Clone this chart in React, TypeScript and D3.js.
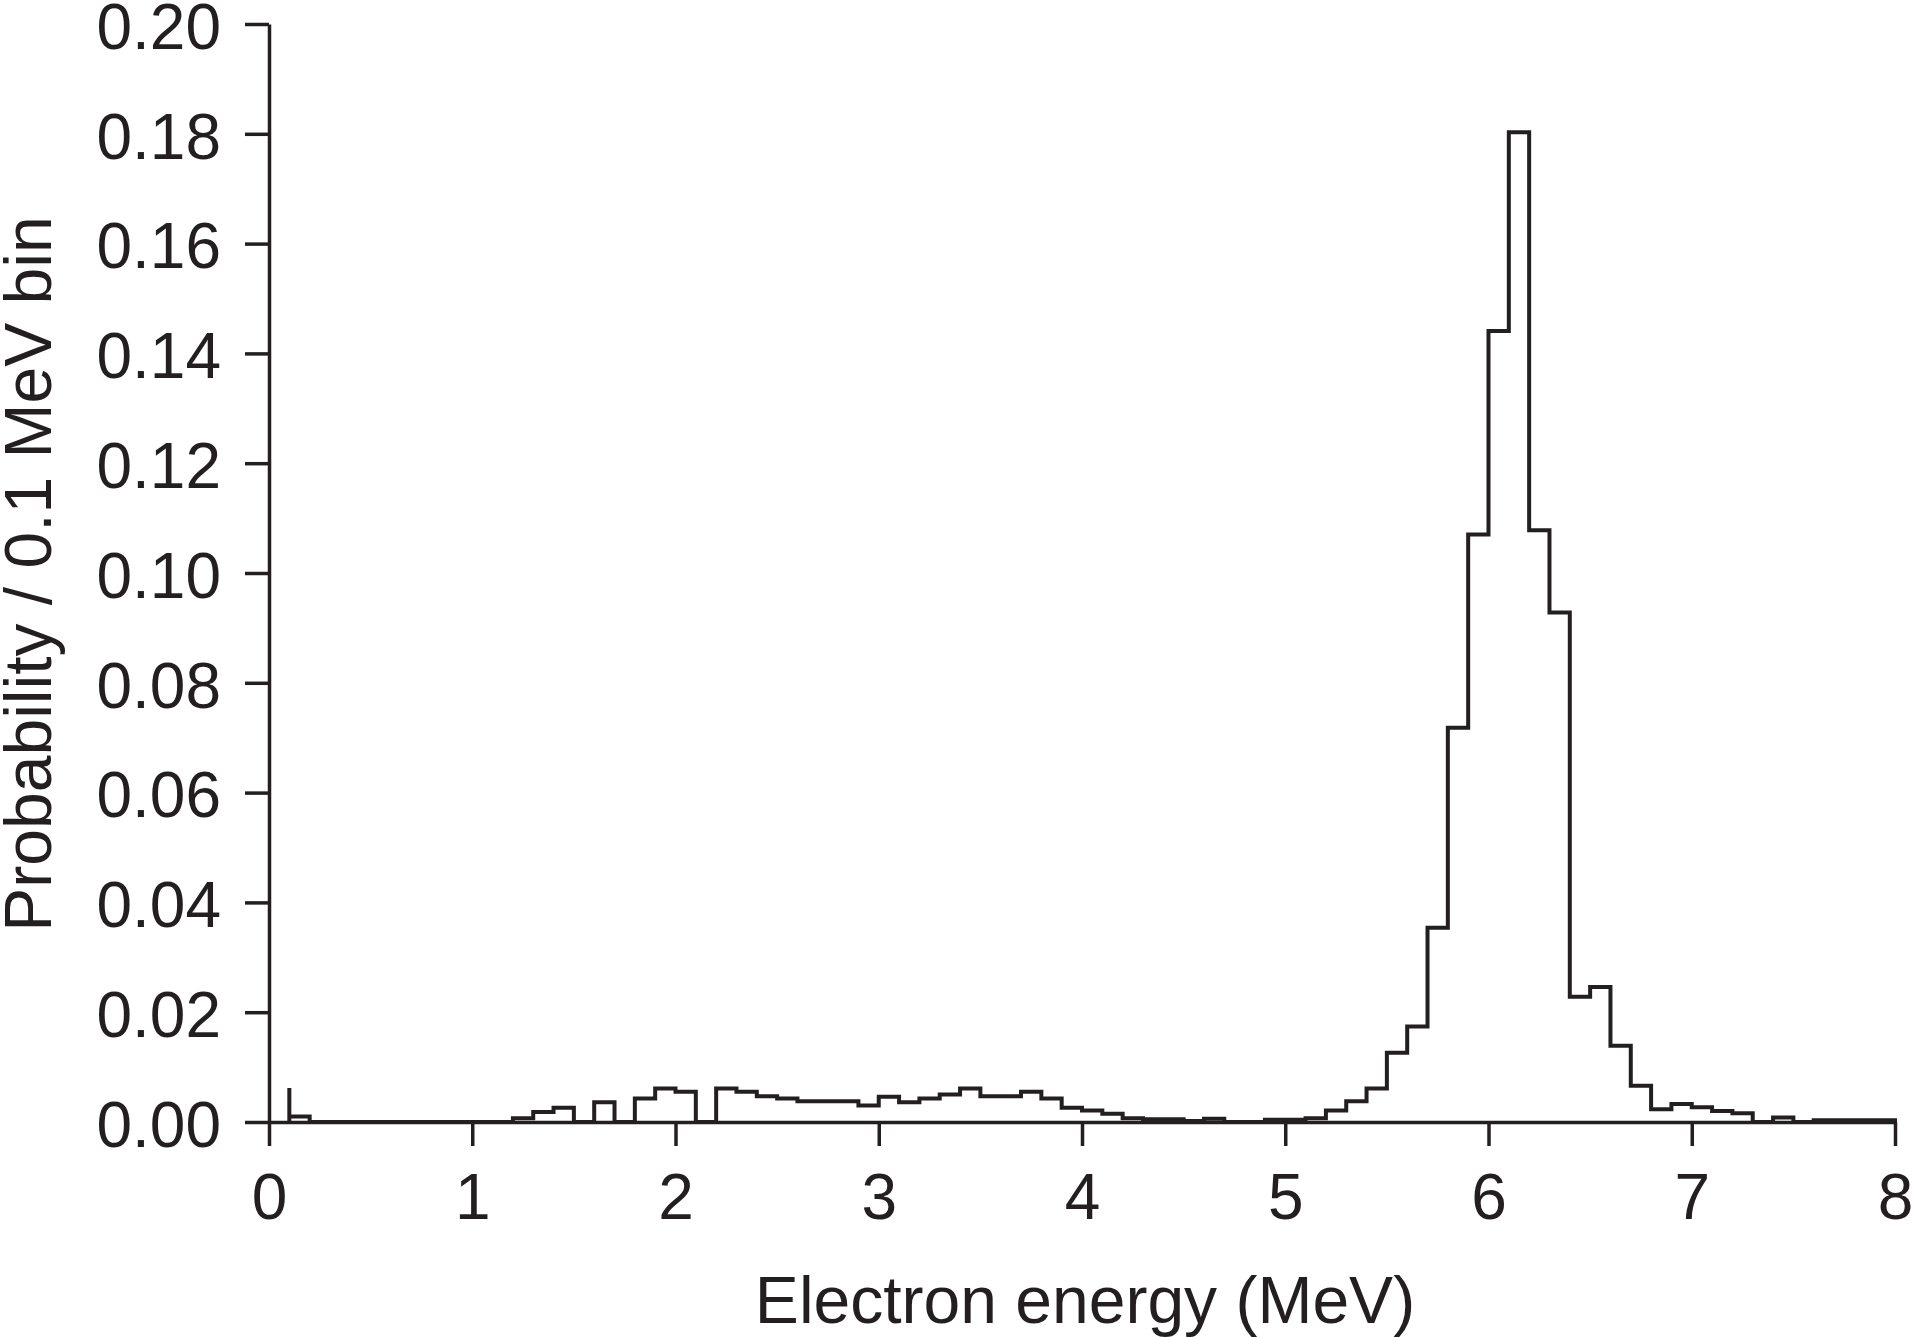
import React, { useRef, useEffect } from 'react';
import * as d3 from 'd3';

// histogram, 0.1 MeV bins from 0 to 8 MeV
const binWidth = 0.1;
const probabilities = [
  0, 0.001, 0, 0, 0, 0, 0, 0, 0, 0,
  0, 0, 0.0007, 0.0018, 0.0026, 0, 0.0036, 0, 0.0043, 0.0061,
  0.0055, 0, 0.0061, 0.0055, 0.0047, 0.0043, 0.0038, 0.0038, 0.0038, 0.003,
  0.0046, 0.0036, 0.0043, 0.005, 0.0061, 0.0047, 0.0047, 0.0055, 0.0043, 0.0026,
  0.0021, 0.0015, 0.0007, 0.0005, 0.0005, 0.0002, 0.0006, 0, 0, 0.0004,
  0.0004, 0.0007, 0.0021, 0.0038, 0.0061, 0.0126, 0.0174, 0.0354, 0.0718, 0.107,
  0.1441, 0.1803, 0.1078, 0.0928, 0.0228, 0.0246, 0.0139, 0.0066, 0.0023, 0.0033,
  0.0027, 0.002, 0.0016, 0, 0.0008, 0, 0.0003, 0.0003, 0.0003, 0.0003,
];
// lone vertical spike drawn at the start of the 0.1 MeV bin
const spikeEnergy = 0.1;
const spikeValue = 0.0062;

const xTicks = [0, 1, 2, 3, 4, 5, 6, 7, 8];
const yTicks = [0, 0.02, 0.04, 0.06, 0.08, 0.1, 0.12, 0.14, 0.16, 0.18, 0.2];
const xTitle = 'Electron energy (MeV)';
const yTitle = 'Probability / 0.1 MeV bin';

const ink = '#231f20';
const font = '"Liberation Sans", Arial, Helvetica, sans-serif';

export default function App() {
  const svgRef = useRef<SVGSVGElement>(null);

  useEffect(() => {
    const width = 1915;
    const height = 1337;
    const svg = d3.select(svgRef.current).attr('width', width).attr('height', height);
    svg.selectAll('*').remove();

    // scales
    const x = d3.scaleLinear().domain([0, 8]).range([269, 1895]);
    const y = d3.scaleLinear().domain([0, 0.2]).range([1122, 24]);

    // x-axis
    const gx = svg.append('g')
      .attr('transform', `translate(0,${y(0)})`)
      .call(d3.axisBottom(x).tickValues(xTicks).tickSize(24).tickSizeOuter(0).tickPadding(2).tickFormat(d3.format('d')));
    // y-axis
    const gy = svg.append('g')
      .attr('transform', `translate(${x(0)},0)`)
      .call(d3.axisLeft(y).tickValues(yTicks).tickSize(24).tickSizeOuter(0).tickPadding(24).tickFormat(d3.format('.2f')));

    [gx, gy].forEach(g => {
      g.select('.domain').attr('stroke', ink).attr('stroke-width', 3.5);
      g.selectAll('.tick line').attr('stroke', ink).attr('stroke-width', 3.5);
      g.selectAll('.tick text')
        .attr('fill', ink)
        .style('font-family', font)
        .style('font-size', '64px');
    });
    gx.selectAll('.tick text').attr('dy', null).attr('y', 97);
    gy.selectAll('.tick text').attr('dy', '0.38em');

    // histogram outline
    const points: [number, number][] = [[spikeEnergy, 0], [spikeEnergy, spikeValue]];
    probabilities.forEach((v, i) => {
      const e = i * binWidth;
      if (e >= spikeEnergy - 1e-9) points.push([e, v]);
    });
    points.push([probabilities.length * binWidth, 0]);

    const line = d3.line<[number, number]>()
      .x(d => x(d[0]))
      .y(d => y(d[1]))
      .curve(d3.curveStepAfter);

    svg.append('path')
      .datum(points)
      .attr('fill', 'none')
      .attr('stroke', ink)
      .attr('stroke-width', 4)
      .attr('stroke-linejoin', 'miter')
      .attr('d', line);

    // axis titles
    svg.append('text')
      .attr('x', 1085)
      .attr('y', 1323)
      .attr('text-anchor', 'middle')
      .attr('fill', ink)
      .style('font-family', font)
      .style('font-size', '66px')
      .text(xTitle);

    svg.append('text')
      .attr('transform', `translate(51,574) rotate(-90)`)
      .attr('text-anchor', 'middle')
      .attr('fill', ink)
      .style('font-family', font)
      .style('font-size', '66px')
      .text(yTitle);
  }, []);

  return (
    <svg ref={svgRef} style={{ position: 'absolute', left: 0, top: 0, background: 'white' }}></svg>
  );
}
